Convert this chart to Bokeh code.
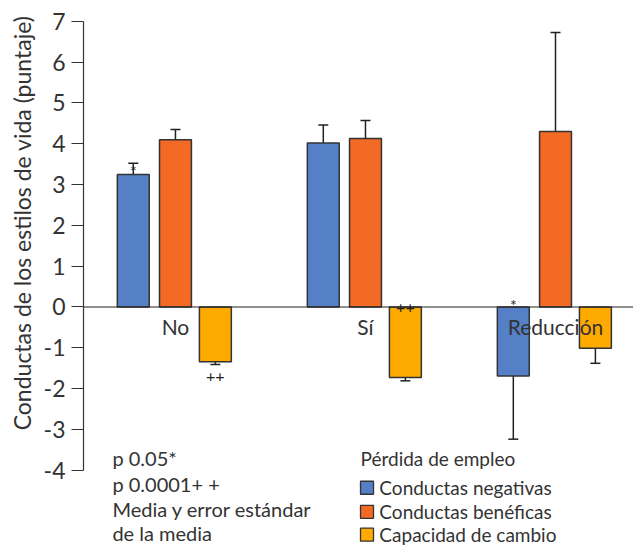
from bokeh.plotting import figure
from bokeh.models import (Range1d, LinearAxis, FixedTicker, Span, Whisker, TeeHead,
                          ColumnDataSource, Title)
from bokeh.core.properties import value
from bokeh.embed import file_html
from bokeh.resources import INLINE

# ---- data ----
groups = ["No", "Sí", "Reducción"]
series = ["Conductas negativas", "Conductas benéficas", "Capacidad de cambio"]
colors = ["#5580C8", "#F26A24", "#FFAA00"]

neg_mean = [3.25, 4.02, -1.69]
neg_se = [0.27, 0.44, 1.55]
ben_mean = [4.10, 4.13, 4.30]
ben_se = [0.25, 0.44, 2.43]
cap_mean = [-1.34, -1.73, -1.01]
cap_se = [0.07, 0.08, 0.37]

y_ticks = list(range(-4, 8))
notes = ["p 0.05*", "p 0.0001+ +", "Media y error estándar", "de la media"]
legend_title = "Pérdida de empleo"
y_label = "Conductas de los estilos de vida (puntaje)"

# significance markers: (series index, group index, text, y anchor)
sig_marks = [(0, 0, "*", 3.35), (0, 2, "*", 0.06), (2, 0, "++", -1.70), (2, 1, "++", -0.01)]

FONT = "Lato"
TXT = "#333333"

p = figure(width=633, height=545, output_backend="svg", toolbar_location=None,
           x_range=Range1d(-0.484, 2.4105), y_range=Range1d(-5.846, 7.512),
           x_axis_type=None, y_axis_type=None,
           min_border_left=83, min_border_right=0, min_border_top=0, min_border_bottom=0,
           outline_line_color=None, background_fill_color="white")
p.grid.grid_line_color = None

yaxis = LinearAxis(bounds=(-4, 7), ticker=FixedTicker(ticks=y_ticks))
yaxis.major_label_overrides = {t: str(t) for t in y_ticks}
yaxis.axis_line_color = TXT
yaxis.axis_line_width = 1.2
yaxis.major_tick_line_color = TXT
yaxis.major_tick_line_width = 1.2
yaxis.major_tick_out = 12
yaxis.major_tick_in = 0
yaxis.minor_tick_line_color = None
yaxis.major_label_text_font = FONT
yaxis.major_label_text_font_size = "23px"
yaxis.major_label_text_color = TXT
yaxis.major_label_standoff = 6
p.add_layout(yaxis, "left")

ytitle = Title(text=y_label, align="right", offset=15, standoff=10,
               text_font=FONT, text_font_size="23px", text_font_style="normal",
               text_color=TXT)
p.add_layout(ytitle, "left")

p.add_layout(Span(location=0, dimension="width", line_color="#222222", line_width=1.2))

offsets = [-0.222, 0.0, 0.21]
bw = 0.168
means = [neg_mean, ben_mean, cap_mean]
ses = [neg_se, ben_se, cap_se]
for s in range(3):
    xs = [g + offsets[s] for g in range(len(groups))]
    src = ColumnDataSource(dict(x=xs, top=means[s],
                                lo=[m - e for m, e in zip(means[s], ses[s])],
                                hi=[m + e for m, e in zip(means[s], ses[s])]))
    p.vbar(x="x", top="top", bottom=0, width=bw, source=src, fill_color=colors[s],
           line_color="#333333", line_width=1.5)
    w = Whisker(source=src, base="x", lower="lo", upper="hi", line_color="#222222",
                line_width=1.5,
                upper_head=TeeHead(size=10, line_color="#222222", line_width=1.5),
                lower_head=TeeHead(size=10, line_color="#222222", line_width=1.5))
    p.add_layout(w)

# category labels just below the zero line
p.text(x=list(range(len(groups))), y=[-0.47] * len(groups), text=groups,
       text_font=value(FONT), text_font_size="21px", text_color=TXT,
       text_align="center", text_baseline="middle")

# significance markers
p.text(x=[g + offsets[s] for s, g, t, yy in sig_marks], y=[yy for s, g, t, yy in sig_marks],
       text=[t for s, g, t, yy in sig_marks], text_font=value(FONT), text_font_size="16px",
       text_color="#222222", text_align="center", text_baseline="middle")

# notes bottom-left
p.text(x=[-0.332] * len(notes), y=[-3.71, -4.33, -4.94, -5.53], text=notes,
       text_font=value(FONT), text_font_size="20px", text_color=TXT,
       text_align="left", text_baseline="middle")

# legend
p.text(x=[0.974], y=[-3.71], text=[legend_title], text_font=value(FONT),
       text_font_size="19px", text_color=TXT, text_align="left", text_baseline="middle")
leg_y = [-4.43, -5.02, -5.58]
p.scatter(x=[1.008] * 3, y=leg_y, marker="square", size=13, fill_color=colors,
          line_color="#333333", line_width=1.3)
p.text(x=[1.073] * 3, y=leg_y, text=series, text_font=value(FONT), text_font_size="19px",
       text_color=TXT, text_align="left", text_baseline="middle")

open("out.html", "w").write(file_html(p, INLINE))
